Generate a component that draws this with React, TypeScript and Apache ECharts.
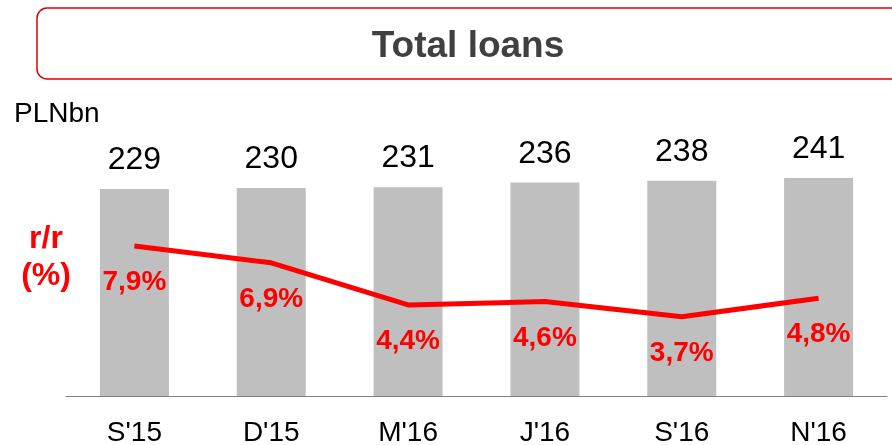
import React, { useEffect, useRef } from "react";
import * as echarts from "echarts";

const categories = ["S'15", "D'15", "M'16", "J'16", "S'16", "N'16"];
const loans = [229, 230, 231, 236, 238, 241];
const yoy = [7.9, 6.9, 4.4, 4.6, 3.7, 4.8];

const FONT = "'Liberation Sans', Arial, sans-serif";

export default function App() {
  const ref = useRef<HTMLDivElement>(null);
  useEffect(() => {
    if (!ref.current) return;
    const chart = echarts.init(ref.current, null, { renderer: "svg" });
    chart.setOption({
      animation: false,
      textStyle: { fontFamily: FONT },
      graphic: [
        {
          type: "rect",
          shape: { x: 37, y: 8, width: 900, height: 71, r: 10 },
          style: { fill: "#fff", stroke: "#e00000", lineWidth: 1.5 },
          z: 0,
        },
        {
          type: "text",
          x: 468,
          y: 44,
          style: {
            text: "Total loans",
            fontFamily: FONT,
            fontSize: 37,
            fontWeight: "bold",
            fill: "#404040",
            align: "center",
            verticalAlign: "middle",
          },
        },
        {
          type: "text",
          x: 14,
          y: 112,
          style: {
            text: "PLNbn",
            fontFamily: FONT,
            fontSize: 28,
            fill: "#000",
            align: "left",
            verticalAlign: "middle",
          },
        },
        {
          type: "text",
          x: 46,
          y: 237,
          style: {
            text: "r/r",
            fontFamily: FONT,
            fontSize: 32,
            fontWeight: "bold",
            fill: "#ff0000",
            align: "center",
            verticalAlign: "middle",
          },
        },
        {
          type: "text",
          x: 46,
          y: 274,
          style: {
            text: "(%)",
            fontFamily: FONT,
            fontSize: 32,
            fontWeight: "bold",
            fill: "#ff0000",
            align: "center",
            verticalAlign: "middle",
          },
        },
      ],
      grid: { left: 66, right: 5, top: 160, bottom: 47 },
      xAxis: {
        type: "category",
        data: categories,
        axisLine: { show: true, lineStyle: { color: "#808080", width: 1 } },
        axisTick: { show: false },
        axisLabel: {
          color: "#000",
          fontSize: 28,
          fontFamily: FONT,
          margin: 21,
        },
      },
      yAxis: [
        { type: "value", min: 0, max: 261, show: false, splitLine: { show: false } },
        { type: "value", min: -1, max: 13, show: false, splitLine: { show: false } },
      ],
      series: [
        {
          type: "bar",
          data: loans,
          barWidth: 69,
          itemStyle: { color: "#bfbfbf" },
          label: {
            show: true,
            position: "top",
            distance: 15,
            color: "#000",
            fontSize: 32,
            fontFamily: FONT,
          },
        },
        {
          type: "line",
          yAxisIndex: 1,
          data: yoy,
          symbol: "circle",
          symbolSize: 1,
          showSymbol: true,
          itemStyle: { color: "rgba(255,0,0,0)" },
          lineStyle: { color: "#ff0000", width: 5 },
          label: {
            show: true,
            position: "bottom",
            distance: 20,
            color: "#ff0000",
            fontSize: 28,
            fontWeight: "bold",
            fontFamily: FONT,
            formatter: (p: any) => String(p.value).replace(".", ",") + "%",
          },
        },
      ],
    });
    return () => chart.dispose();
  }, []);
  return (
    <div
      ref={ref}
      style={{ position: "fixed", left: 0, top: 0, width: 892, height: 445 }}
    />
  );
}
